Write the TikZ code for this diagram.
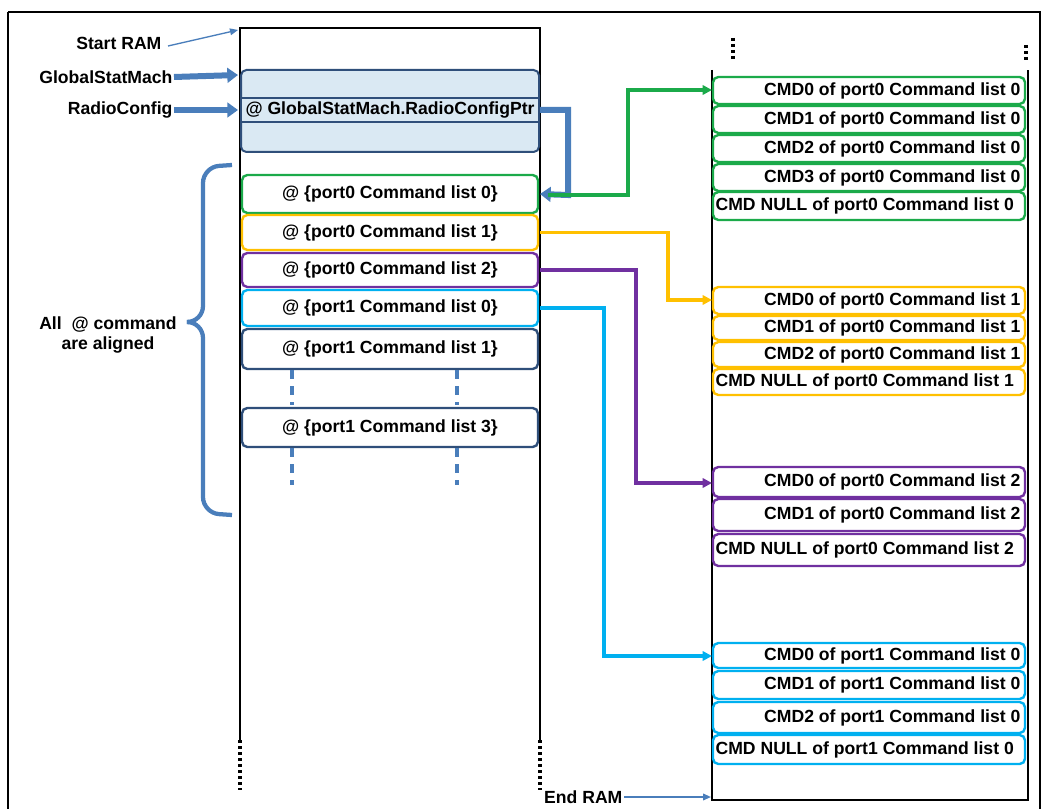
\documentclass[tikz,border=0pt]{standalone}
\usepackage{fontspec}
\setmainfont{Liberation Sans}
\usetikzlibrary{arrows.meta,decorations.pathreplacing}
\definecolor{gr}{HTML}{1BAA4A}
\definecolor{og}{HTML}{FFC000}
\definecolor{pu}{HTML}{7030A0}
\definecolor{cy}{HTML}{00B0F0}
\definecolor{bl}{HTML}{4A7EBB}
\definecolor{db}{HTML}{2F4F7A}
\definecolor{lb}{HTML}{DAE9F3}
\begin{document}
\begin{tikzpicture}[x=0.75pt,y=-0.75pt,font=\bfseries\fontsize{13.2}{15}\selectfont,
 cell/.style={draw=#1,line width=1.8pt,rounded corners=4pt,fill=white},
 lab/.style={inner sep=1pt},
 con/.style={draw=#1,line width=2.4pt,-{Triangle[length=7pt,width=7pt]}},
 mem/.style={line width=2.2pt},
 dots/.style={line width=2.8pt,dash pattern=on 2.5pt off 2pt}]
\useasboundingbox (0,0) rectangle (1042,809);
\draw[line width=0.8pt] (8,12) -- (1040,12) -- (1040,812) (8,812) -- (8,12);
% left memory
\draw[mem] (240,740) -- (240,28) -- (540,28) -- (540,740);
\draw[dots] (240,740) -- (240,790) (540,740) -- (540,790);
\draw[draw=db,line width=1.5pt,fill=lb,rounded corners=4pt] (241,70) rectangle (539,152);
\draw[draw=db,line width=1.5pt,fill=lb] (241,98) rectangle (539,122);
\node[lab] (rcp) at (390,110) {@ GlobalStatMach.RadioConfigPtr};
\coordinate (rcpE) at (540,110);
\foreach \c/\a/\b/\t/\n in {gr/175/213/{port0 Command list 0}/L0,og/215/250/{port0 Command list 1}/L1,pu/253/287/{port0 Command list 2}/L2,cy/290/326/{port1 Command list 0}/L3,db/329/369/{port1 Command list 1}/L4,db/408/447/{port1 Command list 3}/L5}{
 \draw[cell=\c] (242,\a) rectangle (538,\b);
 \node[lab] (\n) at (390,{(\a+\b)/2}) {@ \{\t\}};
 \coordinate (\n E) at (540,{(\a+\b)/2});}
\draw[bl,line width=2.4pt,dash pattern=on 7pt off 5pt] (292,370) -- (292,405) (457,370) -- (457,405) (292,448) -- (292,485) (457,448) -- (457,485);
% brace
\draw[bl,line width=3.2pt,rounded corners=12pt] (232,165) -- (203,167) -- (203,322) -- (190,322);
\draw[bl,line width=3.2pt,rounded corners=12pt] (190,322) -- (203,322) -- (203,513) -- (232,515);
\node[align=center,lab] (al) at (108,335) {All\ \ @ command\\are aligned};
% right memory
\draw[mem] (712,70) -- (712,800) -- (1028,800) -- (1028,70);
\draw[dots] (733,38) -- (733,60) (1026,45) -- (1026,62);
\newcommand\cell[5]{\draw[cell=#1] (713,#2) rectangle (1025,#3);
 \node[lab,anchor=east] (#5) at (1022,{(#2+#3)/2}) {#4};}
\newcommand\nullcell[5]{\draw[cell=#1] (713,#2) rectangle (1025,#3);
 \node[lab,anchor=west] (#5) at (714,{(#2+#3)/2}) {#4};}
\cell{gr}{77}{104}{CMD0 of port0 Command list 0}{g0}
\cell{gr}{106}{133}{CMD1 of port0 Command list 0}{g1}
\cell{gr}{135}{162}{CMD2 of port0 Command list 0}{g2}
\cell{gr}{164}{191}{CMD3 of port0 Command list 0}{g3}
\nullcell{gr}{192}{220}{CMD NULL of port0 Command list 0}{g4}
\cell{og}{287}{314}{CMD0 of port0 Command list 1}{o0}
\cell{og}{316}{340}{CMD1 of port0 Command list 1}{o1}
\cell{og}{342}{367}{CMD2 of port0 Command list 1}{o2}
\nullcell{og}{369}{395}{CMD NULL of port0 Command list 1}{o3}
\cell{pu}{467}{497}{CMD0 of port0 Command list 2}{p0}
\cell{pu}{499}{531}{CMD1 of port0 Command list 2}{p1}
\nullcell{pu}{534}{566}{CMD NULL of port0 Command list 2}{p2}
\cell{cy}{643}{668}{CMD0 of port1 Command list 0}{c0}
\cell{cy}{671}{699}{CMD1 of port1 Command list 0}{c1}
\cell{cy}{702}{733}{CMD2 of port1 Command list 0}{c2}
\nullcell{cy}{735}{764}{CMD NULL of port1 Command list 0}{c3}
\coordinate (gT) at (712,90); \coordinate (oT) at (712,300);
\coordinate (pT) at (712,483); \coordinate (cT) at (712,656);
% connectors
\draw[con=bl,line width=4.5pt,-{Triangle[length=8pt,width=11pt]}] (rcpE) -| (568,195) -- (L0E);
\draw[con=gr] (548,195) -| (628,90) -- (gT);
\draw[con=og] (L1E) -| (668,300) -- (oT);
\draw[con=pu] (L2E) -| (636,483) -- (pT);
\draw[con=cy] (L3E) -| (604,656) -- (cT);
% left labels
\node[lab,anchor=east] (sr) at (163,43) {Start RAM};
\node[lab,anchor=east] (gs) at (174,77) {GlobalStatMach};
\node[lab,anchor=east] (rc) at (174,110) {RadioConfig};
\node[lab,anchor=east] (er) at (624,797) {End RAM};
\coordinate (srT) at (238,30); \coordinate (gsT) at (238,75);
\coordinate (rcT) at (238,110); \coordinate (erT) at (711,797);
\draw[bl,line width=1pt,-{Triangle[length=6pt,width=5pt]}] (168,46) -- (srT);
\draw[bl,line width=4.5pt,-{Triangle[length=8pt,width=11pt]}] (gs.east) -- (gsT);
\draw[bl,line width=4.5pt,-{Triangle[length=8pt,width=11pt]}] (rc.east) -- (rcT);
\draw[bl,line width=1.2pt,-{Triangle[length=6pt,width=5pt]}] (er.east) -- (erT);
\end{tikzpicture}
\end{document}
